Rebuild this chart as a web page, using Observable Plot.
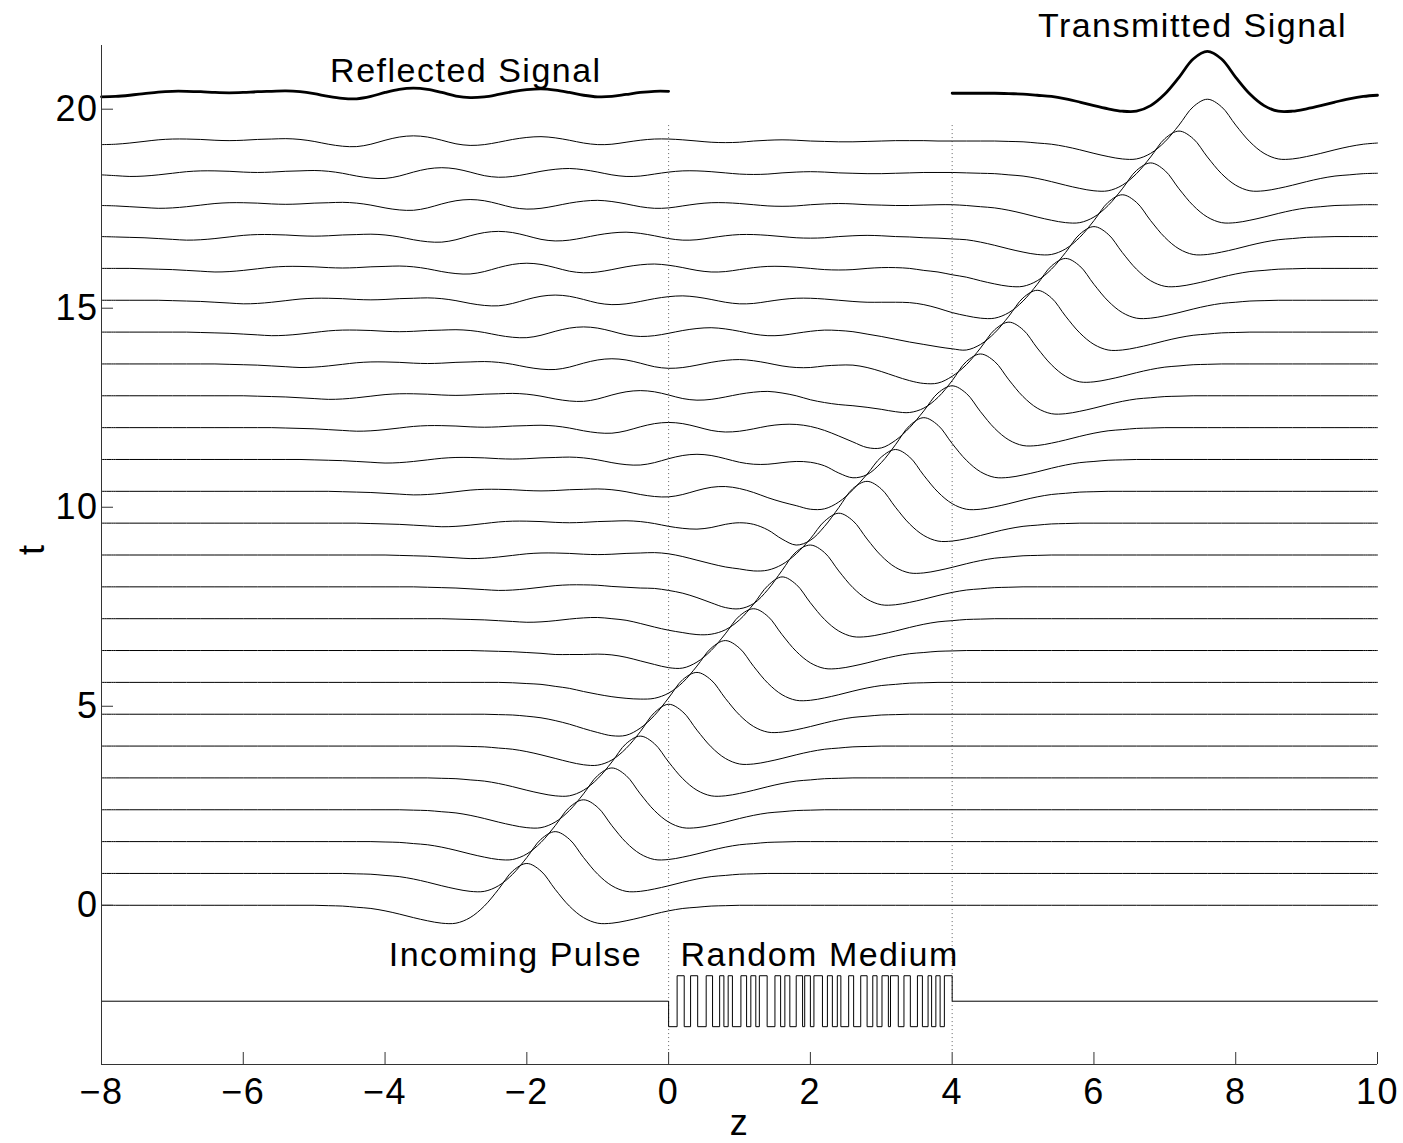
<!DOCTYPE html>
<html>
<head>
<meta charset="utf-8">
<script src="https://cdn.jsdelivr.net/npm/d3@7"></script>
<script src="https://cdn.jsdelivr.net/npm/@observablehq/plot@0.6"></script>
<style>
  html, body { margin: 0; padding: 0; background: #fff; }
  #chart svg { display: block; }
</style>
</head>
<body>
<div id="chart"></div>
<script>
// ---------- data ----------
const zGrid = [-8,-7.8,-7.6,-7.4,-7.2,-7,-6.8,-6.6,-6.4,-6.2,-6,-5.8,-5.6,-5.4,-5.2,-5,-4.8,-4.6,-4.4,-4.2,-4,-3.8,-3.6,-3.4,-3.2,-3,-2.8,-2.6,-2.4,-2.2,-2,-1.8,-1.6,-1.4,-1.2,-1,-0.8,-0.6,-0.4,-0.2,0,0.2,0.4,0.6,0.8,1,1.2,1.4,1.6,1.8,2,2.2,2.4,2.6,2.8,3,3.2,3.4,3.6,3.8,4,4.2,4.4,4.6,4.8,5,5.2,5.4,5.6,5.8,6,6.2,6.4,6.6,6.8,7,7.2,7.4,7.6,7.8,8,8.2,8.4,8.6,8.8,9,9.2,9.4,9.6,9.8,10];

const traceTimes = [0,0.8,1.6,2.4,3.2,4,4.8,5.6,6.4,7.2,8,8.8,9.6,10.4,11.2,12,12.8,13.6,14.4,15.2,16,16.8,17.6,18.4,19.2];

// displacement of each trace from its baseline t, sampled on zGrid
const trace00 = [0,0,0,0,0, 0,0,0,0,0, 0,0,0,0,0,
  0,-.01,-.02,-.05,-.08,-.14,-.22,-.31,-.39,-.45,-.45,-.31,-.02,.4,.86,1.05,.86,.4,-.02,-.31,-.45,-.45,-.39,-.31,-.22,-.14,-.08,-.05,-.02,-.01,0,
  0,0,0,0,0, 0,0,0,0,0, 0,0,0,0,0, 0,0,0,0,0, 0,0,0,0,0, 0,0,0,0,0, 0,0,0,0,0, 0,0,0,0,0, 0,0,0,0,0];
const trace01 = [0,0,0,0,0, 0,0,0,0,0, 0,0,0,0,0, 0,0,
  0,-.01,-.02,-.05,-.08,-.14,-.22,-.31,-.39,-.45,-.45,-.31,-.02,.4,.86,1.05,.86,.4,-.02,-.31,-.45,-.45,-.39,-.31,-.22,-.14,-.08,-.05,-.02,-.01,0,
  0,0,0,0,0, 0,0,0,0,0, 0,0,0,0,0, 0,0,0,0,0, 0,0,0,0,0, 0,0,0,0,0, 0,0,0,0,0, 0,0,0,0,0, 0,0,0];
const trace02 = [0,0,0,0,0, 0,0,0,0,0, 0,0,0,0,0, 0,0,0,0,
  0,-.01,-.02,-.05,-.08,-.14,-.22,-.31,-.39,-.45,-.45,-.31,-.02,.4,.86,1.05,.86,.4,-.02,-.31,-.45,-.45,-.39,-.31,-.22,-.14,-.08,-.05,-.02,-.01,0,
  0,0,0,0,0, 0,0,0,0,0, 0,0,0,0,0, 0,0,0,0,0, 0,0,0,0,0, 0,0,0,0,0, 0,0,0,0,0, 0,0,0,0,0, 0];
const trace03 = [0,0,0,0,0, 0,0,0,0,0, 0,0,0,0,0, 0,0,0,0,0, 0,
  0,-.01,-.02,-.05,-.08,-.14,-.22,-.31,-.39,-.45,-.45,-.31,-.02,.4,.86,1.05,.86,.4,-.02,-.31,-.45,-.45,-.39,-.31,-.22,-.14,-.08,-.05,-.02,-.01,0,
  0,0,0,0,0, 0,0,0,0,0, 0,0,0,0,0, 0,0,0,0,0, 0,0,0,0,0, 0,0,0,0,0, 0,0,0,0,0, 0,0,0,0];
const trace04 = [0,0,0,0,0, 0,0,0,0,0, 0,0,0,0,0, 0,0,0,0,0, 0,0,0,
  0,-.01,-.02,-.05,-.08,-.14,-.22,-.31,-.39,-.45,-.45,-.31,-.02,.4,.86,1.05,.86,.4,-.02,-.31,-.45,-.45,-.39,-.31,-.22,-.14,-.08,-.05,-.02,-.01,0,
  0,0,0,0,0, 0,0,0,0,0, 0,0,0,0,0, 0,0,0,0,0, 0,0,0,0,0, 0,0,0,0,0, 0,0,0,0,0, 0,0];
const trace05 = [0,0,0,0,0, 0,0,0,0,0, 0,0,0,0,0, 0,0,0,0,0, 0,0,0,0,0,
  0,-.01,-.02,-.05,-.08,-.14,-.22,-.31,-.4,-.47,-.48,-.35,-.06,.36,.84,1.05,.86,.4,-.02,-.31,-.45,-.45,-.39,-.31,-.22,-.14,-.08,-.05,-.02,-.01,0,
  0,0,0,0,0, 0,0,0,0,0, 0,0,0,0,0, 0,0,0,0,0, 0,0,0,0,0, 0,0,0,0,0, 0,0,0,0,0];
const trace06 = [0,0,0,0,0, 0,0,0,0,0, 0,0,0,0,0, 0,0,0,0,0, 0,0,0,0,0, 0,0,
  0,-.01,-.02,-.05,-.09,-.16,-.25,-.36,-.46,-.54,-.53,-.35,-.03,.41,.87,1.05,.86,.4,-.02,-.31,-.45,-.45,-.39,-.31,-.22,-.14,-.08,-.05,-.02,-.01,0,
  0,0,0,0,0, 0,0,0,0,0, 0,0,0,0,0, 0,0,0,0,0, 0,0,0,0,0, 0,0,0,0,0, 0,0,0];
const trace07 = [0,0,0,0,0, 0,0,0,0,0, 0,0,0,0,0, 0,0,0,0,0, 0,0,0,0,0, 0,0,0,0,
  -.01,-.03,-.05,-.1,-.15,-.23,-.3,-.36,-.4,-.42,-.4,-.27,0,.41,.86,1.05,.86,.4,-.02,-.31,-.45,-.45,-.39,-.31,-.22,-.14,-.08,-.05,-.02,-.01,0,
  0,0,0,0,0, 0,0,0,0,0, 0,0,0,0,0, 0,0,0,0,0, 0,0,0,0,0, 0,0,0,0,0, 0];
const trace08 = [0,0,0,0,0, 0,0,0,0,0, 0,0,0,0,0, 0,0,0,0,0, 0,0,0,0,0, 0,0,
  -.01,-.02,-.03,-.05,-.07,-.1,-.1,-.1,-.09,-.11,-.17,-.26,-.35,-.43,-.44,-.29,0,.42,.87,1.05,.86,.4,-.02,-.31,-.45,-.45,-.39,-.31,-.22,-.14,-.08,-.05,-.02,-.01,0,
  0,0,0,0,0, 0,0,0,0,0, 0,0,0,0,0, 0,0,0,0,0, 0,0,0,0,0, 0,0,0,0];
const trace09 = [0,0,0,0,0, 0,0,0,0,0, 0,0,0,0,0, 0,0,0,0,0, 0,0,0,0,0,
  -.01,-.02,-.03,-.05,-.07,-.09,-.08,-.05,-.01,.02,.03,0,-.04,-.12,-.21,-.29,-.35,-.4,-.39,-.28,-.03,.37,.83,1.05,.86,.4,-.02,-.31,-.45,-.45,-.39,-.31,-.22,-.14,-.08,-.05,-.02,-.01,0,
  0,0,0,0,0, 0,0,0,0,0, 0,0,0,0,0, 0,0,0,0,0, 0,0,0,0,0, 0,0];
const trace10 = [0,0,0,0,0, 0,0,0,0,0, 0,0,0,0,0, 0,0,0,0,0, 0,0,0,
  -.01,-.02,-.03,-.05,-.07,-.09,-.08,-.05,-.01,.03,.05,.05,
  .04,.01,-.01,-.03,-.04,-.09,-.16,-.27,-.4,-.52,-.55,-.42,-.07,.41,.88,1.05,
  .86,.4,-.02,-.31,-.45,-.45,-.39,-.31,-.22,-.14,-.08,-.05,-.02,-.01,0,
  0,0,0,0,0, 0,0,0,0,0, 0,0,0,0,0, 0,0,0,0,0, 0,0,0,0,0];
const trace11 = [0,0,0,0,0, 0,0,0,0,0, 0,0,0,0,0, 0,0,0,0,0, 0,
  -.01,-.02,-.03,-.05,-.07,-.09,-.08,-.05,-.01,.03, .05,.05,.04,.02,.01,.02,
  .04,.05,.06,.03,-.04,-.13,-.22,-.3,-.35,-.4,-.38,-.24,.03,.41,.85,1.05,
  .86,.4,-.02,-.31,-.45,-.45,-.39,-.31,-.22,-.14,-.08,-.05,-.02,-.01,0,
  0,0,0,0,0, 0,0,0,0,0, 0,0,0,0,0, 0,0,0,0,0, 0,0,0];
const trace12 = [0,0,0,0,0, 0,0,0,0,0, 0,0,0,0,0, 0,0,0,0,
  -.01,-.02,-.03,-.05,-.07,-.09,-.08,-.05,-.01,.03, .05,.05,.04,.02,.01,.02,.04,.05,.06,.04,
  -.01,-.08,-.13,-.15,-.11,-.03,.01,-.03,-.17,-.4,-.55,-.43,-.08,.39,.87,1.05,
  .86,.4,-.02,-.31,-.45,-.45,-.39,-.31,-.22,-.14,-.08,-.05,-.02,-.01,0,
  0,0,0,0,0, 0,0,0,0,0, 0,0,0,0,0, 0,0,0,0,0, 0];
const trace13 = [0,0,0,0,0, 0,0,0,0,0, 0,0,0,0,0, 0,0,
  -.01,-.02,-.03,-.05,-.07,-.09,-.08,-.05,-.01,.03, .05,.05,.04,.02,.01,.02,.04,.05,.06,.04, -.01,-.08,-.13,-.14,
  -.08,.02,.1,.12,.07,-.03,-.16,-.27,-.36,-.45,-.44,-.27,.04,.43,.86,1.05,
  .86,.4,-.02,-.31,-.45,-.45,-.39,-.31,-.22,-.14,-.08,-.05,-.02,-.01,0,
  0,0,0,0,0, 0,0,0,0,0, 0,0,0,0,0, 0,0,0,0];
const trace14 = [0,0,0,0,0, 0,0,0,0,0, 0,0,0,0,0,
  -.01,-.02,-.03,-.05,-.07,-.09,-.08,-.05,-.01,.03, .05,.05,.04,.02,.01,.02,.04,.05,.06,.04, -.01,-.08,-.13,-.14,-.08,.02,.1,.13,
  .1,.02,-.07,-.12,-.12,-.08,-.05,-.07,-.16,-.34,-.46,-.38,-.08,.37,.85,1.05,
  .86,.4,-.02,-.31,-.45,-.45,-.39,-.31,-.22,-.14,-.08,-.05,-.02,-.01,0,
  0,0,0,0,0, 0,0,0,0,0, 0,0,0,0,0, 0,0];
const trace15 = [0,0,0,0,0, 0,0,0,0,0, 0,0,0,
  -.01,-.02,-.03,-.05,-.07,-.09,-.08,-.05,-.01,.03, .05,.05,.04,.02,.01,.02,.04,.05,.06,.04, -.01,-.08,-.13,-.14,-.08,.02,.1,.13,.1,.02, -.07,-.11,
  -.09,-.03,.04,.08,.08,.03,-.07,-.21,-.36,-.5,-.51,-.32,0,.42,.87,1.05,
  .86,.4,-.02,-.31,-.45,-.45,-.39,-.31,-.22,-.14,-.08,-.05,-.02,-.01,0,
  0,0,0,0,0, 0,0,0,0,0, 0,0,0,0,0];
const trace16 = [0,0,0,0,0, 0,0,0,0,0, 0,
  -.01,-.02,-.03,-.05,-.07,-.09,-.08,-.05,-.01,.03, .05,.05,.04,.02,.01,.02,.04,.05,.06,.04, -.01,-.08,-.13,-.14,-.08,.02,.1,.13,.1,.02, -.07,-.11,-.09,-.03,.04,.09,
  .11,.07,0,-.1,-.17,-.22,-.25,-.29,-.34,-.4,-.42,-.31,-.04,.38,
  .86,1.05,.86,.4,-.02,-.31,-.45,-.45,-.39,-.31,-.22,-.14,-.08,-.05,-.02,-.01,0,
  0,0,0,0,0, 0,0,0,0,0, 0,0,0];
const trace17 = [0,0,0,0,0, 0,0,0,0,
  -.01,-.02,-.03,-.05,-.07,-.09,-.08,-.05,-.01,.03, .05,.05,.04,.02,.01,.02,.04,.05,.06,.04, -.01,-.08,-.13,-.14,-.08,.02,.1,.13,.1,.02, -.07,-.11,-.09,-.03,.04,.09,.11,.08,.02,-.05,
  -.09,-.09,-.05,-.03,-.03,-.09,-.19,-.31,-.42,-.49,-.48,-.31,
  -.02,.4,.86,1.05,.86,.4,-.02,-.31,-.45,-.45,-.39,-.31,-.22,-.14,-.08,-.05,-.02,-.01,0,
  0,0,0,0,0, 0,0,0,0,0, 0];
const trace18 = [0,0,0,0,0, 0,0,
  -.01,-.02,-.03,-.05,-.07,-.09,-.08,-.05,-.01,.03, .05,.05,.04,.02,.01,.02,.04,.05,.06,.04, -.01,-.08,-.13,-.14,-.08,.02,.1,.13,.1,.02, -.07,-.11,-.09,-.03,.04,.09,.11,.08,.02,-.05, -.09,-.08,-.03,.02,
  .05,.04,.01,-.05,-.11,-.18,-.25,-.31,-.37,-.42,
  -.45,-.31,-.02,.4,.86,1.05,.86,.4,-.02,-.31,-.45,-.45,-.39,-.31,-.22,-.14,-.08,-.05,-.02,-.01,0,
  0,0,0,0,0, 0,0,0,0];
const trace19 = [0,0,0,0,0,
  -.01,-.02,-.03,-.05,-.07,-.09,-.08,-.05,-.01,.03, .05,.05,.04,.02,.01,.02,.04,.05,.06,.04, -.01,-.08,-.13,-.14,-.08,.02,.1,.13,.1,.02, -.07,-.11,-.09,-.03,.04,.09,.11,.08,.02,-.05, -.09,-.08,-.03,.02,.05,.05,.03,0,
  -.03,-.05,-.05,-.05,-.06,-.11,-.2,-.31,
  -.39,-.45,-.45,-.31,-.02,.4,.86,1.05,.86,.4,-.02,-.31,-.45,-.45,-.39,-.31,-.22,-.14,-.08,-.05,-.02,-.01,0,
  0,0,0,0,0, 0,0];
const trace20 = [0,0,0,
  -.01,-.02,-.03,-.05,-.07,-.09,-.08,-.05,-.01,.03, .05,.05,.04,.02,.01,.02,.04,.05,.06,.04, -.01,-.08,-.13,-.14,-.08,.02,.1,.13,.1,.02, -.07,-.11,-.09,-.03,.04,.09,.11,.08,.02,-.05, -.09,-.08,-.03,.02,.05,.05,.03,0,-.03,-.04, -.03,0,
  .02,.02,0,-.05,-.09,-.16,
  -.22,-.31,-.39,-.45,-.45,-.31,-.02,.4,.86,1.05,.86,.4,-.02,-.31,-.45,-.45,-.39,-.31,-.22,-.14,-.08,-.05,-.02,-.01,0,
  0,0,0,0,0];
const trace21 = [0,
  -.01,-.02,-.03,-.05,-.07,-.09,-.08,-.05,-.01,.03, .05,.05,.04,.02,.01,.02,.04,.05,.06,.04, -.01,-.08,-.13,-.14,-.08,.02,.1,.13,.1,.02, -.07,-.11,-.09,-.03,.04,.09,.11,.08,.02,-.05, -.09,-.08,-.03,.02,.05,.05,.03,0,-.03,-.04, -.03,0,.02,.03,.02,0,
  -.01,-.03,-.04,-.06,
  -.08,-.14,-.22,-.31,-.39,-.45,-.45,-.31,-.02,.4,.86,1.05,.86,.4,-.02,-.31,-.45,-.45,-.39,-.31,-.22,-.14,-.08,-.05,-.02,-.01,0,
  0,0,0];
const trace22 = [-.02,-.03,-.05,-.07,-.09,-.08,-.05,-.01,.03, .05,.05,.04,.02,.01,.02,.04,.05,.06,.04, -.01,-.08,-.13,-.14,-.08,.02,.1,.13,.1,.02, -.07,-.11,-.09,-.03,.04,.09,.11,.08,.02,-.05, -.09,-.08,-.03,.02,.05,.05,.03,0,-.03,-.04, -.03,0,.02,.03,.02,0,-.01,-.02,-.02,-.01,
  0,0,
  -.02,-.05,-.08,-.14,-.22,-.31,-.39,-.45,-.45,-.31,-.02,.4,.86,1.05,.86,.4,-.02,-.31,-.45,-.45,-.39,-.31,-.22,-.14,-.08,-.05,-.02,-.01,0,
  0];
const trace23 = [-.05,-.07,-.09,-.08,-.05,-.01,.03, .05,.05,.04,.02,.01,.02,.04,.05,.06,.04, -.01,-.08,-.13,-.14,-.08,.02,.1,.13,.1,.02, -.07,-.11,-.09,-.03,.04,.09,.11,.08,.02,-.05, -.09,-.08,-.03,.02,.05,.05,.03,0,-.03,-.04, -.03,0,.02,.03,.02,0,-.01,-.02,-.02,-.01, 0,.01,.01,.01,
  0,-.01,-.02,-.05,-.08,-.14,-.22,-.31,-.39,-.45,-.45,-.31,-.02,.4,.86,1.05,.86,.4,-.02,-.31,-.45,-.45,-.39,-.31,-.22,-.14,-.08,-.05,-.02,-.01];
const trace24 = [-.09,-.08,-.05,-.01,.03, .05,.05,.04,.02,.01,.02,.04,.05,.06,.04, -.01,-.08,-.13,-.14,-.08,.02,.1,.13,.1,.02, -.07,-.11,-.09,-.03,.04,.09,.11,.08,.02,-.05, -.09,-.08,-.03,.02,.05,.05,.03,0,-.03,-.04, -.03,0,.02,.03,.02,0,-.01,-.02,-.02,-.01, 0,.01,.01,.01,0, 0,
  0,0,
  0,-.01,-.02,-.05,-.08,-.14,-.22,-.31,-.39,-.45,-.45,-.31,-.02,.4,.86,1.05,.86,.4,-.02,-.31,-.45,-.45,-.39,-.31,-.22,-.14,-.08,-.05];

const traces = [trace00,trace01,trace02,trace03,trace04,trace05,trace06,trace07,trace08,trace09,
  trace10,trace11,trace12,trace13,trace14,trace15,trace16,trace17,trace18,trace19,
  trace20,trace21,trace22,trace23,trace24];

// bold copy of the last snapshot, drawn above the stack
const topTraceBase = 20.4;
const reflectedRange = [-8, 0];
const transmittedRange = [4, 10];

// random medium (layer edges in z, level of each layer)
const mediumEdges = [0,0.12,0.22,0.31,0.41,0.53,0.62,0.72,0.78,0.84,0.9,1.02,1.1,1.16,1.23,1.28,1.39,1.5,1.58,1.64,1.71,1.8,1.89,1.92,2,2.05,2.17,2.24,2.31,2.38,2.43,2.54,2.61,2.71,2.8,2.88,2.94,3.01,3.1,3.13,3.24,3.32,3.41,3.51,3.58,3.66,3.71,3.77,3.83,3.89,4];
const mediumLevels = [-1,1,-1,1,-1,1,-1,1,-1,1, -1,1,-1,1,-1,1,-1,1,-1,1, -1,1,-1,1,-1,1,-1,1,-1,1, -1,1,-1,1,-1,1,-1,1,-1,1, -1,1,-1,1,-1,1,-1,1,-1,1];
const mediumBase = -2.41;
const mediumAmp = 0.64;

// medium boundaries (dotted lines)
const boundaryZ = [0, 4];
const boundarySpan = [-3.65, 19.65];

// annotations
const labelText = ["Reflected Signal", "Transmitted Signal", "Incoming Pulse", "Random Medium"];
const labelZ = [-2.86, 7.39, -2.16, 2.13];
const labelT = [20.96, 22.09, -1.25, -1.25];

const xTickValues = [-8,-6,-4,-2,0,2,4,6,8,10];
const yTickValues = [0,5,10,15,20];

// ---------- build tables ----------
const rows = [];
traces.forEach((vals, k) => {
  if (vals.length !== zGrid.length) throw new Error("trace" + k + " has " + vals.length + " values");
  vals.forEach((v, i) => rows.push({k, z: zGrid[i], t: traceTimes[k] + v}));
});
const lastTrace = traces[traces.length - 1];
const boldRows = [];
zGrid.forEach((z, i) => {
  if (z >= reflectedRange[0] && z <= reflectedRange[1]) boldRows.push({seg: "reflected", z, t: topTraceBase + lastTrace[i]});
  if (z >= transmittedRange[0] && z <= transmittedRange[1]) boldRows.push({seg: "transmitted", z, t: topTraceBase + lastTrace[i]});
});
const mediumRows = [{z: -8, t: mediumBase}];
mediumEdges.forEach((z, j) => {
  const lev = j < mediumLevels.length ? mediumLevels[j] : 0;
  mediumRows.push({z, t: mediumBase + mediumAmp * lev});
});
mediumRows.push({z: 10, t: mediumBase});

// ---------- plot ----------
const W = 1403, H = 1143;
const mL = 101, mR = 26, mT = 45, mB = 79;
const FS = 34;
const TFS = 36;

const chart = Plot.plot({
  width: W, height: H,
  marginLeft: mL, marginRight: mR, marginTop: mT, marginBottom: mB,
  x: {domain: [-8, 10]},
  y: {domain: [-4, 21.6]},
  style: {fontFamily: "'Liberation Sans', Arial, Helvetica, sans-serif", background: "#fff", color: "#000", overflow: "visible"},
  marks: [
    Plot.ruleX(boundaryZ, {x: d => d, y1: boundarySpan[0], y2: boundarySpan[1], stroke: "#666", strokeWidth: 1, strokeDasharray: "1,3"}),
    Plot.line(rows, {x: "z", y: "t", z: "k", curve: "catmull-rom", stroke: "#000", strokeWidth: 1}),
    Plot.line(boldRows, {x: "z", y: "t", z: "seg", curve: "catmull-rom", stroke: "#000", strokeWidth: 2.8}),
    Plot.line(mediumRows, {x: "z", y: "t", curve: "step-after", stroke: "#000", strokeWidth: 1}),
    Plot.ruleX([-8], {stroke: "#333"}),
    Plot.ruleY([-4], {stroke: "#333"}),
    Plot.tickX(xTickValues, {x: d => d, insetTop: (H - mT - mB) - 12, stroke: "#333"}),
    Plot.tickY(yTickValues, {y: d => d, insetRight: (W - mL - mR) - 12, stroke: "#333"}),
    Plot.axisX({ticks: xTickValues, tickSize: 0, tickPadding: 14, fontSize: TFS, label: null}),
    Plot.axisY({ticks: yTickValues, tickSize: 0, tickPadding: 3, fontSize: TFS, label: null}),
    Plot.text(labelText, {x: labelZ, y: labelT, text: d => d, fontSize: FS, textAnchor: "middle", lineAnchor: "middle"}),
    Plot.text(["z"], {text: d => d, frameAnchor: "bottom", dy: 70, fontSize: TFS}),
    Plot.text(["t"], {text: d => d, frameAnchor: "left", dx: -69, rotate: -90, fontSize: TFS})
  ]
});
chart.querySelectorAll("text").forEach(el => el.setAttribute("letter-spacing", "1.5"));
document.getElementById("chart").appendChild(chart);
</script>
</body>
</html>
